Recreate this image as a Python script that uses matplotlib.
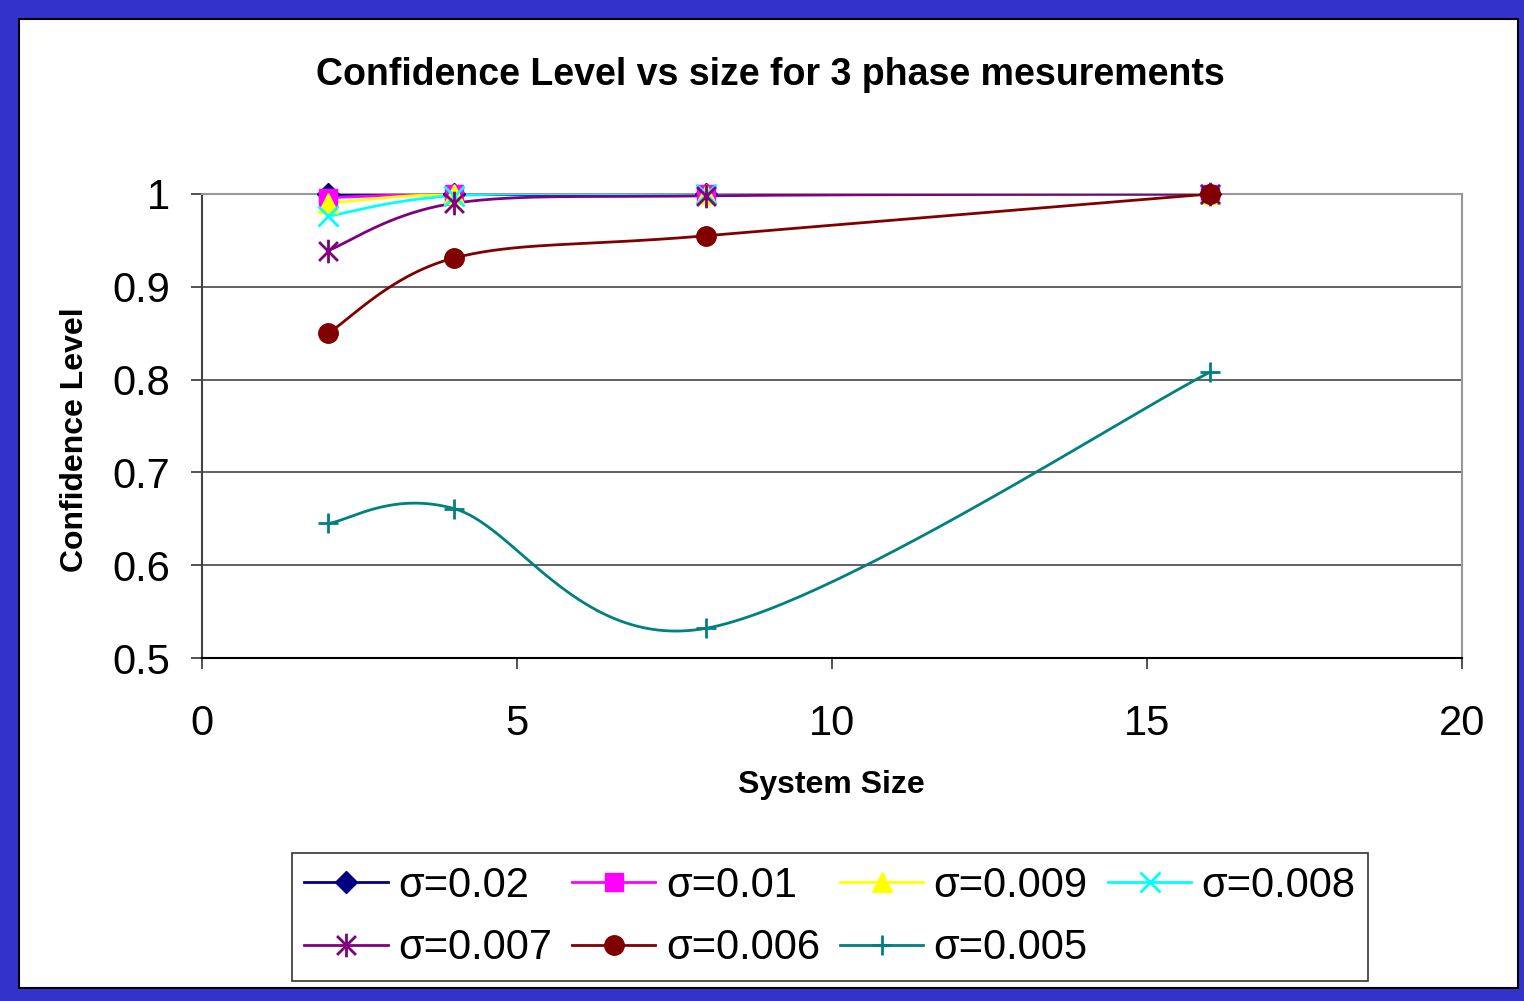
import numpy as np
import matplotlib
matplotlib.use("Agg")
import matplotlib.pyplot as plt
from matplotlib.patches import Rectangle
from matplotlib.path import Path

plt.rcParams['font.family'] = ['Liberation Sans', 'DejaVu Sans']

# data
system_size = [2, 4, 8, 16]
labels = ["σ=0.02", "σ=0.01", "σ=0.009", "σ=0.008",
          "σ=0.007", "σ=0.006", "σ=0.005"]
conf_002 = [1.0, 1.0, 1.0, 1.0]
conf_001 = [0.996, 1.0, 1.0, 1.0]
conf_0009 = [0.990, 1.0, 1.0, 1.0]
conf_0008 = [0.976, 0.998, 1.0, 1.0]
conf_0007 = [0.939, 0.990, 0.998, 1.0]
conf_0006 = [0.850, 0.931, 0.955, 1.0]
conf_0005 = [0.645, 0.661, 0.532, 0.808]
series = [conf_002, conf_001, conf_0009, conf_0008, conf_0007, conf_0006, conf_0005]

colors = ["#000080", "#FF00FF", "#FFFF00", "#00FFFF", "#800080", "#800000", "#008080"]

# asterisk marker like Excel's (vertical bar + X)
asterisk = Path([(0, -1), (0, 1), (-0.8, -0.8), (0.8, 0.8), (-0.8, 0.8), (0.8, -0.8)],
                [Path.MOVETO, Path.LINETO, Path.MOVETO, Path.LINETO, Path.MOVETO, Path.LINETO])
markers = ["D", "s", "^", "x", asterisk, "o", "+"]
msizes = [11, 13, 14, 15, 17, 14, 15]


def smooth(xs, ys, n=60):
    # Excel-style smoothed line: cubic Bezier through the points
    P = np.column_stack([xs, ys]).astype(float)
    out = []
    for i in range(len(P) - 1):
        p0 = P[i - 1] if i > 0 else P[i]
        p1, p2 = P[i], P[i + 1]
        p3 = P[i + 2] if i + 2 < len(P) else P[i + 1]
        c1 = p1 + (p2 - p0) / 6
        c2 = p2 - (p3 - p1) / 6
        t = np.linspace(0, 1, n)[:, None]
        seg = ((1 - t) ** 3) * p1 + 3 * ((1 - t) ** 2) * t * c1 + 3 * (1 - t) * t ** 2 * c2 + t ** 3 * p2
        out.append(seg if i == 0 else seg[1:])
    seg = np.vstack(out)
    return seg[:, 0], seg[:, 1]


fig = plt.figure(figsize=(15.24, 10.01), dpi=100)
fig.patch.set_facecolor("#3333CC")
fig.patches.append(Rectangle((19 / 1524, 1 - 988 / 1001), (1518 - 19) / 1524, (988 - 19) / 1001,
                             transform=fig.transFigure, facecolor="white",
                             edgecolor="black", linewidth=1.5, zorder=-10))

ax = fig.add_axes([202 / 1524, 1 - 658 / 1001, (1462 - 202) / 1524, (658 - 194) / 1001])
ax.set_facecolor("none")
ax.set_xlim(0, 20)
ax.set_ylim(0.5, 1.0)
ax.set_xticks([0, 5, 10, 15, 20])
ax.set_yticks([0.5, 0.6, 0.7, 0.8, 0.9, 1.0])
ax.set_yticklabels(["0.5", "0.6", "0.7", "0.8", "0.9", "1"])
ax.yaxis.grid(True, color="#555555", linewidth=1.3)
ax.set_axisbelow(True)
ax.tick_params(axis="both", labelsize=30, direction="out", length=8, width=1.2, color="#333333")
ax.tick_params(axis="x", pad=25)
ax.tick_params(axis="y", pad=15)
ax.spines["left"].set_color("#444444")
ax.spines["bottom"].set_color("black")
ax.spines["top"].set_color("#999999")
ax.spines["right"].set_color("#999999")
for s in ax.spines.values():
    s.set_linewidth(1.5)

handles = []
for vals, lab, col, mk, ms in zip(series, labels, colors, markers, msizes):
    sx, sy = smooth(system_size, vals)
    ax.plot(sx, sy, color=col, linewidth=2, zorder=3)
    mew = 2 if mk in ("x", "+") or mk is asterisk else 1
    ax.plot(system_size, vals, linestyle="none", marker=mk, markersize=ms, color=col,
            markeredgewidth=mew, zorder=4, clip_on=False)
    h, = ax.plot([], [], color=col, linewidth=2, marker=mk, markersize=ms, markeredgewidth=mew, label=lab)
    handles.append(h)

fig.text(770 / 1524, 1 - 75 / 1001, "Confidence Level vs size for 3 phase mesurements",
         ha="center", va="center", fontsize=27, fontweight="bold")
fig.text(831 / 1524, 1 - 785 / 1001, "System Size", ha="center", va="center",
         fontsize=23, fontweight="bold")
fig.text(75 / 1524, 1 - 440 / 1001, "Confidence Level", ha="center", va="center",
         rotation=90, fontsize=23, fontweight="bold")

# legend fills column-wise, so reorder to read row-wise like the original
order = [0, 4, 1, 5, 2, 6, 3]
leg = ax.legend([handles[i] for i in order], [labels[i] for i in order],
                loc="center", bbox_to_anchor=(830 / 1524, 1 - 917 / 1001),
                bbox_transform=fig.transFigure, ncol=4, fontsize=30,
                frameon=True, fancybox=False, edgecolor="black", handlelength=2.0,
                handletextpad=0.25, columnspacing=0.48, labelspacing=0.55, borderpad=0.3)
leg.get_frame().set_linewidth(1.2)

fig.savefig("out.png", dpi=100, facecolor=fig.get_facecolor())
